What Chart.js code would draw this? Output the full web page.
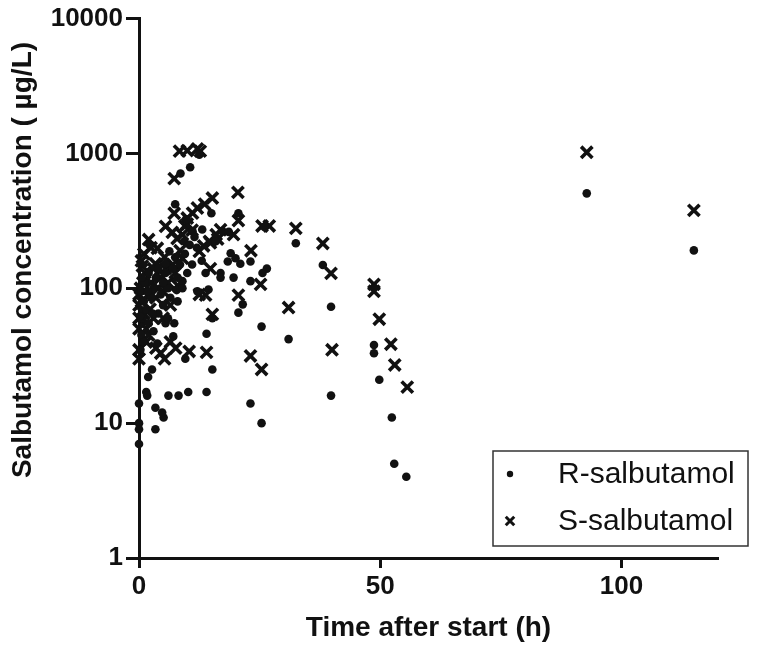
<!DOCTYPE html>
<html>
<head>
<meta charset="utf-8">
<script src="https://cdn.jsdelivr.net/npm/chart.js@4/dist/chart.umd.min.js"></script>
<style>
  html, body { margin: 0; padding: 0; background: #fff; }
  #wrap { width: 761px; height: 648px; }
</style>
</head>
<body>
<div id="wrap"><canvas id="chart" width="761" height="648"></canvas></div>
<script>
// Salbutamol enantiomers, concentration vs time (log y)

const xTicks = [0, 50, 100];
const yTicks = [1, 10, 100, 1000, 10000];

// R-salbutamol (dots)
const rTime = [92.8, 115, 55.4, 52.9, 52.4, 49.8, 48.7, 48.7, 48.7, 39.8, 39.8, 38.1, 32.5, 31, 26.5, 25.6, 26, 25.4, 25.4,
  23.1, 23.1, 23.1, 21.5, 20.6, 20.6, 21, 20, 19.6, 19, 18.4, 17.3, 18.6, 16.9, 16.9, 15.9, 15.2, 15.2, 15, 14.4, 14, 14,
  13.8, 13.1, 12.5, 12.1, 11.1, 10.6, 10.2, 9.8, 9.6, 9.4, 9, 8.6, 8.2, 7.8, 7.5, 7.5, 7.3, 7.1, 6.3, 6.1, 5.5, 5.5, 5.1,
  4.8, 3.8, 3.4, 3.4, 2.7, 2.1, 1.9, 1.5, 1.7, 0, 0, 0, 0,
  0.3, 0.5, 0.8, 1, 0.5, 1.2, 1.5, 2, 2.5, 3, 3.5, 4, 4.5, 5, 5.5, 6, 6.5, 7, 8, 2, 1, 0.2, 3, 4, 5, 6, 2.8, 1.8, 0.6,
  8.5, 9.5, 10.5, 11.5, 12, 13, 10, 11, 9, 8];
const rConc = [506, 191, 4, 5, 11, 21, 33, 38, 101, 73, 16, 149, 216, 42, 140, 130, 285, 52, 10,
  14, 113, 158, 76, 66, 360, 152, 167, 120, 182, 158, 265, 262, 130, 120, 223, 60, 25, 360, 98, 46, 17,
  130, 273, 980, 95, 265, 790, 17, 325, 30, 223, 113, 710, 16, 97, 420, 170, 55, 44, 188, 16, 152, 55, 11,
  12, 39, 13, 9, 25, 212, 22, 17, 16, 14, 10, 9, 7,
  35, 45, 60, 80, 95, 110, 70, 55, 85, 100, 120, 65, 90, 75, 130, 100, 85, 140, 120, 130, 40, 62, 48, 140, 110, 60, 65, 95, 120,
  150, 180, 210, 240, 200, 160, 130, 150, 100, 80];

// S-salbutamol (crosses)
const sTime = [92.8, 115, 55.6, 53, 52.2, 49.8, 48.7, 48.7, 40, 39.8, 38.1, 32.5, 31, 27, 25.5, 25.4, 25.2, 23.1, 23.2,
  20.6, 20.5, 20.6, 16.9, 16, 19.6, 15.2, 14.8, 14.6, 14, 13.8, 13.4, 14.8, 16.3, 15.2, 13.6, 12.1, 11.1, 10, 12.5,
  12.7, 12.1, 10, 8.4, 7.3, 7.3, 7.9, 6.9, 5.5, 5.3, 3.8, 2, 0.7, 3.4, 9, 12.5, 10.4, 7.6, 5.3, 6.5,
  0, 0, 0, 0, 0, 0, 0.3, 0.5, 0.8, 1, 1.2, 1.5, 2, 2.3, 2.5, 3, 3, 3.5, 4, 4.5, 5, 5, 5.5, 6, 6.5, 7, 7.5, 8, 8.5,
  9, 9.5, 10, 11, 1, 0.5, 1.5, 2, 3.5, 4.5, 2.5];
const sConc = [1020, 378, 18.5, 27, 38.5, 59, 107, 95, 35, 129, 215, 278, 72, 290, 290, 25, 107, 31.5, 190,
  89, 514, 318, 272, 250, 250, 64, 140, 223, 33.5, 89, 206, 217, 232, 467, 421, 394, 361, 332, 188,
  1040, 1080, 1050, 1040, 650, 360, 234, 260, 288, 170, 198, 230, 146, 152, 167, 90, 34, 36, 30, 40,
  30, 35, 50, 60, 75, 90, 100, 80, 110, 65, 130, 50, 90, 70, 110, 60, 140, 85, 100, 120, 95, 60, 140, 110, 75, 150, 130, 105, 190,
  250, 290, 300, 270, 180, 160, 40, 45, 36, 33, 200];

const ink = '#111';
const toPoints = (xs, ys) => xs.map((x, i) => ({ x: x, y: ys[i] }));

// legend drawn inside the plot, bottom right, with a frame
const boxLegend = {
  id: 'boxLegend',
  afterDraw(chart) {
    const { ctx, chartArea } = chart;
    const x0 = chartArea.right - 225, y0 = chartArea.bottom - 107;
    ctx.save();
    ctx.strokeStyle = '#333';
    ctx.lineWidth = 1.5;
    ctx.strokeRect(x0, y0, 255, 95);
    ctx.font = '30px "Liberation Sans", Arial, sans-serif';
    ctx.textBaseline = 'middle';
    chart.data.datasets.forEach((ds, i) => {
      const y = y0 + 23 + i * 47;
      ctx.fillStyle = ink;
      ctx.strokeStyle = ink;
      ctx.lineWidth = ds.legendBorder;
      Chart.helpers.drawPoint(ctx, {
        pointStyle: ds.pointStyle, radius: ds.legendRadius, borderWidth: ds.legendBorder, rotation: 0
      }, x0 + 17, y);
      ctx.fillText(ds.label, x0 + 65, y + 1);
    });
    ctx.restore();
  }
};

const tickFont = { family: '"Liberation Sans", Arial', size: 26, weight: 'bold' };
const titleFont = { family: '"Liberation Sans", Arial', size: 28, weight: 'bold' };

new Chart(document.getElementById('chart').getContext('2d'), {
  type: 'scatter',
  data: {
    datasets: [
      {
        label: 'R-salbutamol',
        data: toPoints(rTime, rConc),
        pointStyle: 'circle',
        pointRadius: 4.3,
        pointBackgroundColor: ink,
        pointBorderColor: ink,
        pointBorderWidth: 0,
        legendRadius: 3.2,
        legendBorder: 0,
        clip: false
      },
      {
        label: 'S-salbutamol',
        data: toPoints(sTime, sConc),
        pointStyle: 'crossRot',
        pointRadius: 8,
        pointBackgroundColor: ink,
        pointBorderColor: ink,
        pointBorderWidth: 3.6,
        legendRadius: 6,
        legendBorder: 3,
        clip: false
      }
    ]
  },
  options: {
    responsive: false,
    animation: false,
    devicePixelRatio: 1,
    layout: { padding: { top: 17, right: 43, left: 0, bottom: 0 } },
    plugins: { legend: { display: false }, tooltip: { enabled: false } },
    scales: {
      x: {
        type: 'linear',
        min: 0,
        max: 120,
        afterBuildTicks: s => { s.ticks = xTicks.map(v => ({ value: v })); },
        afterFit: s => { s.height = 90; },
        ticks: { color: ink, padding: 3, font: tickFont },
        grid: { drawOnChartArea: false, drawTicks: true, tickLength: 10, tickWidth: 3, tickColor: ink },
        border: { display: true, width: 3, color: ink },
        title: {
          display: true,
          text: 'Time after start (h)',
          color: ink,
          padding: { top: 0, bottom: 3 },
          font: titleFont
        }
      },
      y: {
        type: 'logarithmic',
        min: 1,
        max: 10000,
        afterBuildTicks: s => { s.ticks = yTicks.map(v => ({ value: v })); },
        afterFit: s => { s.width = 139; },
        ticks: { color: ink, padding: 3, callback: v => String(v), font: tickFont },
        grid: { drawOnChartArea: false, drawTicks: true, tickLength: 13, tickWidth: 3, tickColor: ink },
        border: { display: true, width: 3, color: ink },
        title: {
          display: true,
          align: 'end',
          text: 'Salbutamol concentration ( µg/L)   ',
          color: ink,
          padding: { top: 6, bottom: 0 },
          font: titleFont
        }
      }
    }
  },
  plugins: [boxLegend]
});
</script>
</body>
</html>
